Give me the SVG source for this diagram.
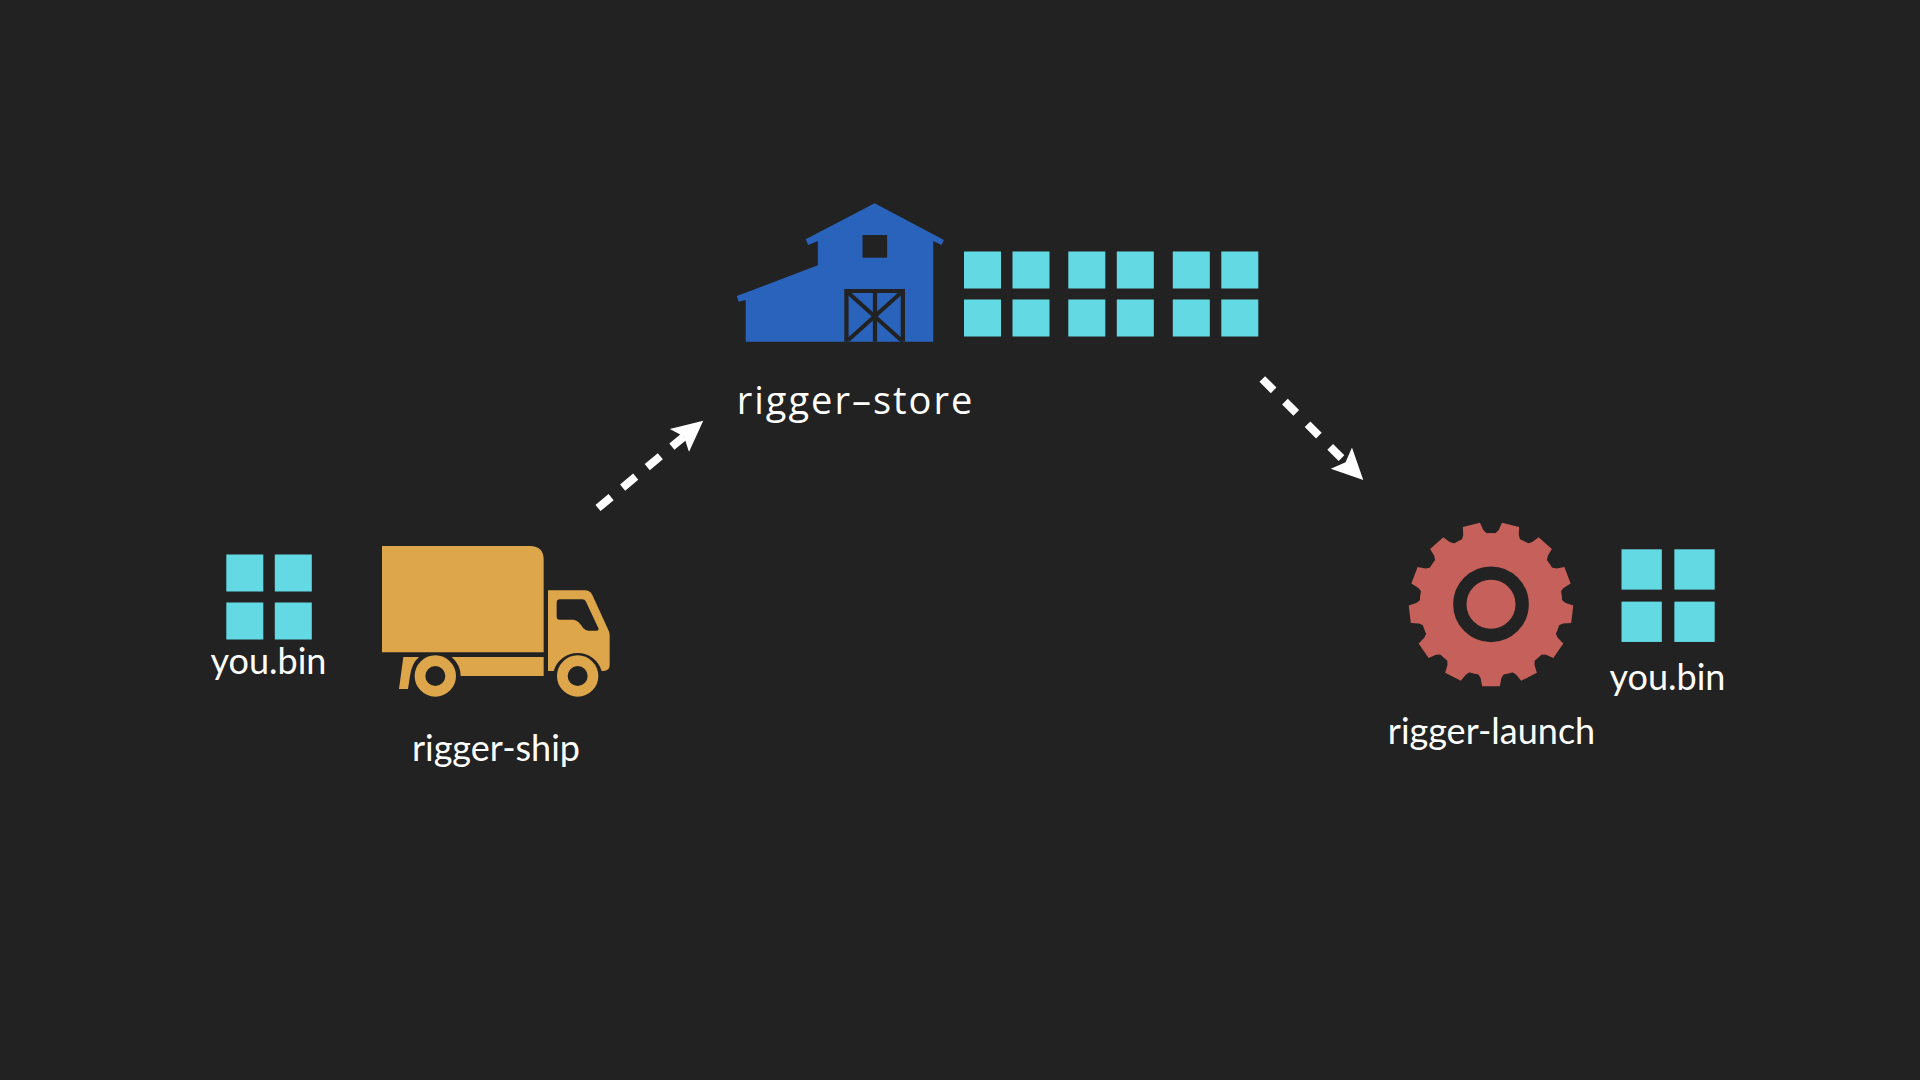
<svg xmlns="http://www.w3.org/2000/svg" width="1920" height="1080" viewBox="0 0 1920 1080">
<style>
.bg{fill:#222222}
.sq{fill:#63d9e3}
.t{font-family:"Lato","Liberation Sans",sans-serif;font-size:36px;fill:#ffffff;text-anchor:middle}
.s{font-family:"Open Sans","DejaVu Sans",sans-serif;font-size:38px;fill:#ffffff;text-anchor:middle}
.c{fill:none;stroke:#ffffff;stroke-width:8;marker-end:url(#head)}
</style>
<defs>
<marker id="head" markerUnits="userSpaceOnUse" viewBox="0 -16 32 32" refX="6" refY="0" markerWidth="32" markerHeight="32" orient="auto"><path d="M0 -15L31 0L0 15L6 0Z" fill="#ffffff"/></marker>
<g id="bin2"><rect class="sq" x="0" y="0" width="37" height="37"/><rect class="sq" x="48.500" y="0" width="37" height="37"/><rect class="sq" x="0" y="48" width="37" height="37"/><rect class="sq" x="48.500" y="48" width="37" height="37"/></g>
<path id="tooth" d="M-39 -208L-31 -222L-26.500 -245.500H26.500L31 -222L39 -208Z" fill="#c5605a"/>
</defs>
<rect class="bg" width="1920" height="1080"/>
<g id="connectors">
<path class="c" stroke-dasharray="17 15" d="M598 508L684 436.600"/>
<path class="c" stroke-dasharray="16 16" d="M1262.300 379L1345.600 462.300"/>
</g>
<g id="you-bin-left">
<use href="#bin2" x="226.300" y="554.500"/>
<text class="t" x="268.500" y="674">you.bin</text>
</g>
<g id="rigger-ship">
<g transform="translate(190 520) scale(.33333)">
<path fill="#dea64b" d="M576 78H1020Q1061 78 1061 120V397H576Z"/>
<path fill="#dea64b" fill-rule="evenodd" d="M1074 211H1185Q1200 211 1207 225L1255 330Q1259 337 1259 345V435Q1259 452 1240 453H1235A75 75 0 0 0 1091 453H1074ZM1100 248Q1100 238 1110 238H1176Q1185 238 1188 245L1226 326Q1226 332 1220 332H1195Q1187 332 1180 325Q1165 300 1150 299H1108Q1100 299 1100 290Z"/>
<path fill="#dea64b" d="M785 411H1061V468H812Q812 435 785 411Z"/>
<path fill="#dea64b" d="M640 411H687Q665 430 660 468L654 507H627Z"/>
<circle cx="736" cy="468" r="46" fill="none" stroke="#dea64b" stroke-width="32"/>
<circle cx="1163" cy="468" r="46" fill="none" stroke="#dea64b" stroke-width="32"/>
</g>
<text class="t" x="496" y="761">rigger-ship</text>
</g>
<g id="rigger-store">
<g transform="translate(720 190) scale(.35714 .33333)">
<path fill="#2a63bc" d="M433 40L627 150L620 165L597 153V455H72V330L52 335L47 318L274 226V153L247 165L240 148Z"/>
<rect class="bg" x="399" y="135" width="69" height="68"/>
<g fill="none" stroke="#222222" stroke-width="12">
<path d="M354 455V303H512V455"/>
<path d="M434 303V455"/>
<path d="M358 307L508 451M508 307L358 451"/>
</g>
</g>
<use href="#bin2" x="964" y="251.500"/>
<use href="#bin2" x="1068.300" y="251.500"/>
<use href="#bin2" x="1172.800" y="251.500"/>
<text class="s" x="855.500" y="414" letter-spacing="2">rigger–store</text>
</g>
<g id="rigger-launch">
<g transform="translate(1491 604.300) scale(.33333)">
<circle r="214" fill="#c5605a"/>
<use href="#tooth" transform="rotate(13.850)"/><use href="#tooth" transform="rotate(41.540)"/><use href="#tooth" transform="rotate(69.230)"/><use href="#tooth" transform="rotate(96.920)"/><use href="#tooth" transform="rotate(124.620)"/><use href="#tooth" transform="rotate(152.310)"/><use href="#tooth" transform="rotate(180)"/><use href="#tooth" transform="rotate(207.690)"/><use href="#tooth" transform="rotate(235.380)"/><use href="#tooth" transform="rotate(263.080)"/><use href="#tooth" transform="rotate(290.770)"/><use href="#tooth" transform="rotate(318.460)"/><use href="#tooth" transform="rotate(346.150)"/>
<circle r="93.500" fill="none" stroke="#222222" stroke-width="40"/>
</g>
<text class="t" x="1491.500" y="744">rigger-launch</text>
</g>
<g id="you-bin-right">
<use href="#bin2" transform="translate(1621.500 549.300) scale(1.09 1.09)"/>
<text class="t" x="1667.500" y="689.500">you.bin</text>
</g>
</svg>
